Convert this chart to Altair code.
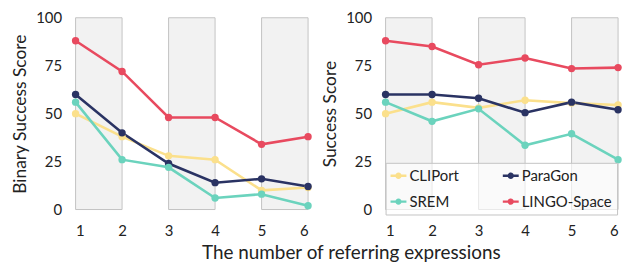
import altair as alt
import pandas as pd

# ---- data ----
x_vals = [1, 2, 3, 4, 5, 6]
series = ["CLIPort", "ParaGon", "SREM", "LINGO-Space"]
colors = ["#FBE08C", "#2A3363", "#6BD3BD", "#E84A5F"]
legend_order = ["CLIPort", "SREM", "ParaGon", "LINGO-Space"]

binary_cliport = [50, 38, 28, 26, 10, 11.5]
binary_paragon = [60, 40, 24, 14, 16, 12]
binary_srem = [56, 26, 22, 6, 8, 2]
binary_lingo = [88, 72, 48, 48, 34, 38]

succ_cliport = [50, 56, 53, 57, 55.5, 54.5]
succ_paragon = [60, 60, 58, 50.5, 56, 52]
succ_srem = [56, 46, 52.5, 33.5, 39.5, 26]
succ_lingo = [88, 85, 75.5, 79, 73.5, 74]

band_start = [1, 3, 5]
band_end = [2, 4, 6]
band_low = [0, 0, 0]
band_high = [100, 100, 100]

y_ticks = [0, 25, 50, 75, 100]

FONT = "Lato"
W, H = 234, 193


def long_df(vals):
    rows = []
    for name, ys in zip(series, vals):
        for x, y in zip(x_vals, ys):
            rows.append({"x": x, "y": y, "series": name})
    return pd.DataFrame(rows)


bands_df = pd.DataFrame({"start": band_start, "end": band_end,
                         "lo": band_low, "hi": band_high})

xscale = alt.Scale(domain=[1, 6], nice=False, zero=False)
yscale = alt.Scale(domain=[0, 100], nice=False)
color_of = dict(zip(series, colors))
cscale = alt.Scale(domain=legend_order, range=[color_of[s] for s in legend_order])

legend_symbol = ("M-1,-0.15L1,-0.15L1,0.15L-1,0.15Z "
                 "M-0.4,0A0.4,0.4 0 1,1 0.4,0A0.4,0.4 0 1,1 -0.4,0Z")


def panel(df, ytitle, with_legend):
    xaxis = alt.Axis(values=x_vals, title=None, grid=False, domain=False,
                     ticks=False, tickSize=0, labelFontSize=15, labelFont=FONT,
                     labelPadding=14, labelColor="#222222", format="d")
    yaxis = alt.Axis(values=y_ticks, title=ytitle, grid=False, domain=False,
                     ticks=False, tickSize=0, labelFontSize=15, labelFont=FONT,
                     labelPadding=14, labelColor="#222222", titleFont=FONT,
                     titleFontSize=17.5, titleFontWeight="normal",
                     titleColor="#222222", titlePadding=6)
    if with_legend:
        leg = alt.Legend(
            orient="none", legendX=0, legendY=146, columns=2, title=None,
            symbolType=legend_symbol, symbolSize=256, symbolStrokeWidth=0,
            labelFontSize=15, labelFont=FONT, labelColor="#222222",
            fillColor="rgba(255,255,255,0.62)", strokeColor="#c4c4c4",
            padding=5, rowPadding=10, columnPadding=44, labelOffset=3,
            symbolOpacity=1,
        )
    else:
        leg = None
    bands = alt.Chart(bands_df).mark_rect(
        fill="#f2f2f2", stroke="#c4c4c4", strokeWidth=1
    ).encode(
        x=alt.X("start:Q", scale=xscale, axis=xaxis),
        x2="end:Q",
        y=alt.Y("lo:Q", scale=yscale, axis=yaxis),
        y2="hi:Q",
    )
    lines = alt.Chart(df).mark_line(strokeWidth=2.6).encode(
        x=alt.X("x:Q", scale=xscale),
        y=alt.Y("y:Q", scale=yscale),
        color=alt.Color("series:N", scale=cscale, legend=leg),
    )
    points = alt.Chart(df).mark_circle(size=55, opacity=1).encode(
        x=alt.X("x:Q", scale=xscale),
        y=alt.Y("y:Q", scale=yscale),
        color=alt.Color("series:N", scale=cscale, legend=leg),
    )
    return alt.layer(bands, lines, points).properties(width=W, height=H)


left = panel(long_df([binary_cliport, binary_paragon, binary_srem, binary_lingo]),
             "Binary Success Score", False)
right = panel(long_df([succ_cliport, succ_paragon, succ_srem, succ_lingo]),
              "Success Score", True)

chart = alt.hconcat(left, right, spacing=78, bounds="flush").resolve_scale(
    color="independent"
).resolve_legend(
    color="independent"
).properties(
    title=alt.TitleParams("The number of referring expressions", orient="bottom",
                          anchor="middle", fontSize=19, font=FONT,
                          fontWeight="normal", color="#222222", dx=34, offset=6),
    padding={"left": 3, "top": 2, "right": 5, "bottom": 0},
).configure_view(stroke=None)

chart.save("out.html", embed_options={"renderer": "svg", "actions": False})
